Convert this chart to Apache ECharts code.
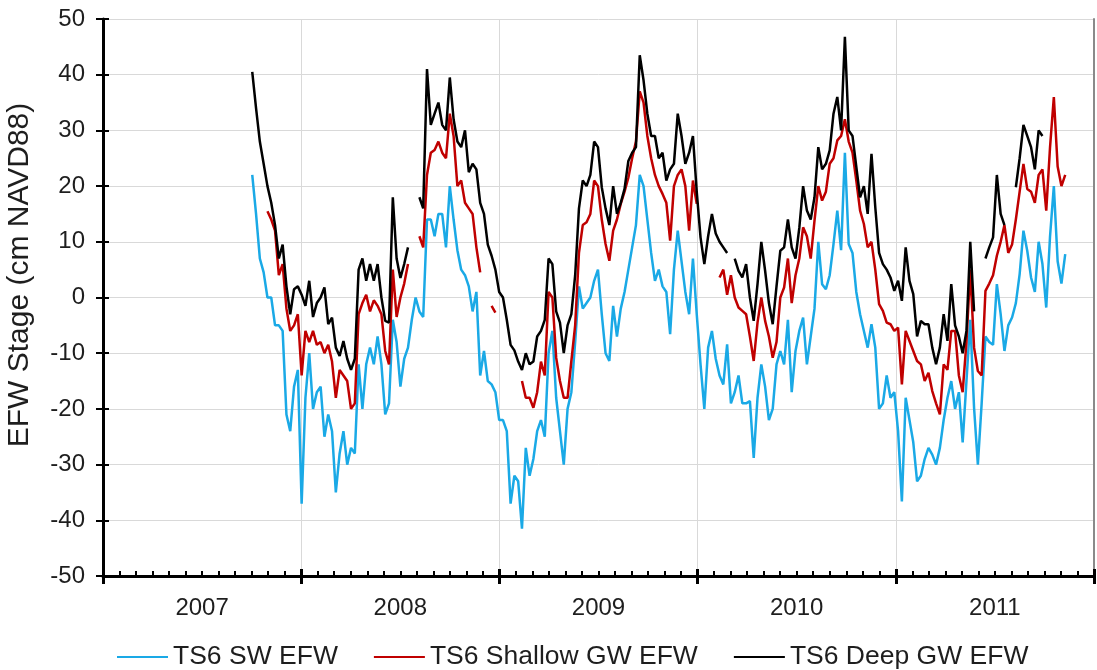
<!DOCTYPE html>
<html>
<head>
<meta charset="utf-8">
<title>TS6 EFW Stage</title>
<style>
  html, body { margin: 0; padding: 0; background: #ffffff; }
  #chart { width: 1097px; height: 670px; }
</style>
<script src="https://cdn.jsdelivr.net/npm/echarts@6/dist/echarts.min.js"></script>
</head>
<body>
<div id="chart"></div>
<script>
// Year bands on the x axis and month names for the minor ticks
const yearLabels = ['2007', '2008', '2009', '2010', '2011'];
const monthNames = ['Jan', 'Feb', 'Mar', 'Apr', 'May', 'Jun', 'Jul', 'Aug', 'Sep', 'Oct', 'Nov', 'Dec'];
const yAxisTitle = 'EFW Stage (cm NAVD88)';

// Weekly stage readings (cm NAVD88) starting from this date
const firstWeek = [2007, 9, 3]; // 3 Oct 2007 (month is zero-based)

// TS6 surface water EFW
const swEfw = [
  22, 15, 7, 4.5, 0, 0, -5, -5, -6, -21,
  -24, -16, -13, -37, -18, -10, -20, -17, -16, -25,
  -21, -24, -35, -28, -24, -30, -27, -28, -12, -20,
  -12, -9, -12, -7, -12, -21, -19, -4, -8, -16,
  -11, -9, -4, 0, -2.5, -3.5, 14, 14, 11, 15,
  15, 9, 20, 14, 8.5, 5, 4, 2, -2.5, 1,
  -14, -9.6, -15, -15.6, -17, -22, -22, -24, -37, -32,
  -33, -41.5, -27, -32, -29, -24, -22, -25, -10, -6,
  -18, -24, -30, -20, -17, -8, 2, -2, -1, 0,
  3, 5, -3, -10, -11.4, -1.5, -7, -2, 1, 5,
  9, 13, 22, 20, 14, 8, 3, 5, 2, 1,
  -6.6, 5, 12, 6.5, 1, -3, 7, -3, -12, -20,
  -9, -6, -11, -14, -15.6, -8.4, -19, -17, -14, -19,
  -19, -18.6, -28.8, -18, -12, -16, -22, -20, -12, -9.6,
  -12, -4, -17, -9.6, -6, -3.6, -12, -7, -2, 10,
  2.4, 1.5, 4, 9.6, 15.6, 8.5, 26, 9.6, 8, 1,
  -3, -6, -9, -4.8, -9, -20, -19, -14, -18, -17,
  -24, -36.6, -18, -22, -26, -33, -32, -29, -27, -28.2,
  -30, -27, -22, -18, -15, -20, -17, -26, -15, -4,
  -19.8, -30, -19, -7, -8, -8.5, 2.4, -3, -9.6, -5,
  -3.6, -1, 4.2, 12, 8.4, 3.6, 1, 10, 6, -1.8,
  11, 20, 6.5, 2.5, 7.8
];

// TS6 shallow groundwater EFW (null = no reading)
const shallowGwEfw = [
  null, null, null, null, 15.5, 14, 12, 4, 6, -2,
  -6, -5, -3, -14, -6, -8, -6, -8.5, -8, -10,
  -8.5, -11.5, -18, -13, -14, -15, -20, -19, -3, -1,
  0.5, -2.5, -0.5, -1.5, -3, -9.6, -12, 5, -3.5, 0,
  2.5, 6, null, null, 11, 9, 22, 26, 26.5, 28,
  26, 25, 33, 29, 20, 21, 17, 16, 15, 9,
  4.5, null, null, -1.5, -2.7, null, null, null, null, null,
  null, -15, -18, -18, -19.8, -17, -11.5, -14, 1, 0,
  -10.8, -15, -18, -18, -11.4, -5, 8, 13, 13.5, 15,
  21, 20, 14, 9.6, 6.6, 12, 14, 16.8, 19, 21.5,
  25, 28, 37, 35, 29, 25, 22, 20, 18.6, 17,
  10.2, 20, 22, 23, 20, 12, 21, 16.8, null, null,
  null, null, null, 3.6, 5, 0.5, 4, 0, -1.8, -2.4,
  -3, -7, -11.4, -4.5, 0, -4.2, -7, -10.8, -8, 0,
  1.8, 7, -1, 4, 7, 12.6, 11, 7, 13.8, 20,
  17.4, 19, 24, 25, 28.2, 29, 32, 28, 26, 21,
  15.6, 13.2, 9, 10, 5, -1.2, -2.4, -4.5, -4.8, -6,
  -5.4, -15.6, -6, -7.8, -9.6, -11.4, -12, -15, -13.5, -16.8,
  -19, -21, -12, -13, -6, -6, -14, -17, -8, 5,
  -9, -13.2, -14, 1.2, 2.5, 4, 7.5, 10, 13, 8,
  9.5, 14, 19, 24, 19.5, 19, 17, 22, 23, 15.6,
  27, 36, 23.5, 20, 22
];

// TS6 deep groundwater EFW (null = no reading)
const deepGwEfw = [
  40.5, 34, 28, 24, 20, 17, 13, 7, 9.5, 2,
  -3, 1.5, 2, 0.5, -1.5, 3, -3.5, -1, 0, 1.8,
  -4.8, -3.6, -9, -10.5, -7.8, -11, -13, -11, 5, 7,
  3, 6, 3, 6, 0, -4.2, -4.5, 18, 7, 3.5,
  6, 9, null, null, 18, 16, 41, 31, 33, 35,
  31, 30, 39.5, 32, 28, 27, 30, 22.5, 24, 23,
  17, 15, 9.5, 7.5, 5, 1, 0, -4, -8.5, -9.5,
  -11.5, -13, -10, -12, -11.5, -7, -6, -4, 7, 6,
  -2.5, -4.5, -10, -5, -3, 4, 16, 21, 20, 22,
  28, 27, 19.8, 16, 13, 20, 15, 17, 19.5, 24.5,
  26, 27, 43.5, 39, 33, 29, 29, 25, 26, 21,
  23, 24, 33, 29, 24, 26, 29, 19, 10.8, 6,
  11, 15, 11.5, 10, 9, 8, null, 7, 4.8, 3.6,
  6, 0, -4.2, 2.4, 10, 4.8, -1, -4.8, 2, 8.4,
  9, 14, 9, 7, 12.5, 20, 15.6, 14, 18, 27,
  23, 24, 26.4, 33, 36, 30, 46.8, 30, 29, 23.5,
  18, 20, 15, 25.8, 16.2, 8, 6, 5, 3.6, 1.2,
  3, -0.6, 9, 3, 0.6, -7, -4.2, -4.8, -4.8, -9,
  -12, -9, -3, -7.8, 2.4, -5, -7, -10, -6, 10,
  -2.5, null, null, 7, 9, 10.8, 22, 15, 13, null,
  null, 19.8, 25, 31, 29, 27, 23, 30, 29, null,
  null, null, null, null, null
];

const DAY = 86400000;
const startTime = Date.UTC(firstWeek[0], firstWeek[1], firstWeek[2]);

// Pair each weekly reading with its date; missing readings become gaps
function toPoints(values) {
  return values.map((v, i) => [startTime + i * 7 * DAY, v === null ? '-' : v]);
}

const monthLabels = yearLabels.flatMap(y => monthNames.map(m => m + ' ' + y));

const FONT = "'Liberation Sans', Arial, sans-serif";
const TEXT = '#1e1e1e';
const GRID_LINE = '#d9d9d9';
const LINE_W = 2.5;

const chart = echarts.init(document.getElementById('chart'), null, { renderer: 'canvas' });

chart.setOption({
  animation: false,
  backgroundColor: '#ffffff',
  textStyle: { fontFamily: FONT },
  grid: { left: 103, right: 3, top: 19, bottom: 94, containLabel: false },
  graphic: [
    {
      // rotated y-axis title
      type: 'text',
      x: 20,
      y: 275,
      rotation: Math.PI / 2,
      style: {
        text: yAxisTitle,
        font: "30px 'Liberation Sans', Arial, sans-serif",
        fill: TEXT,
        textAlign: 'center',
        textVerticalAlign: 'middle'
      }
    }
  ],
  legend: {
    left: 112,
    top: 637,
    icon: 'rect',
    itemWidth: 51,
    itemHeight: 2,
    itemGap: 36,
    textStyle: { fontFamily: FONT, fontSize: 26.5, color: TEXT, lineHeight: 30 },
    data: ['TS6 SW EFW', 'TS6 Shallow GW EFW', 'TS6 Deep GW EFW']
  },
  xAxis: [
    {
      // data axis (dates)
      type: 'time',
      min: Date.UTC(2007, 0, 1),
      max: Date.UTC(2012, 0, 1),
      show: false
    },
    {
      // year labels, outer major ticks, yearly grid lines
      type: 'category',
      data: yearLabels,
      boundaryGap: true,
      position: 'bottom',
      axisLine: { onZero: false, lineStyle: { color: '#000', width: 3 } },
      axisTick: { show: true, inside: false, length: 8, interval: 0, lineStyle: { color: '#000', width: 3 } },
      axisLabel: { show: true, interval: 0, margin: 20, fontFamily: FONT, fontSize: 24, color: TEXT },
      splitLine: { show: true, interval: 0, lineStyle: { color: GRID_LINE, width: 1 } }
    },
    {
      // inner half of the major ticks
      type: 'category',
      data: yearLabels,
      boundaryGap: true,
      position: 'bottom',
      axisLine: { show: false, onZero: false },
      axisTick: { show: true, inside: true, length: 7, interval: 0, lineStyle: { color: '#000', width: 3 } },
      axisLabel: { show: false },
      splitLine: { show: false }
    },
    {
      // monthly minor ticks
      type: 'category',
      data: monthLabels,
      boundaryGap: true,
      position: 'bottom',
      axisLine: { show: false, onZero: false },
      axisTick: { show: true, inside: true, length: 5, interval: 0, lineStyle: { color: '#000', width: 2 } },
      axisLabel: { show: false, interval: 0 },
      splitLine: { show: false }
    }
  ],
  yAxis: [
    {
      type: 'value',
      min: -50,
      max: 50,
      interval: 10,
      position: 'left',
      axisLine: { show: true, onZero: false, lineStyle: { color: '#000', width: 3 } },
      axisTick: { show: true, inside: false, length: 7, lineStyle: { color: '#000', width: 2 } },
      axisLabel: { margin: 18, fontFamily: FONT, fontSize: 24, color: TEXT },
      splitLine: { show: true, lineStyle: { color: GRID_LINE, width: 1 } }
    },
    {
      // inner half of the crossing y ticks
      type: 'value',
      min: -50,
      max: 50,
      interval: 10,
      position: 'left',
      axisLine: { show: false, onZero: false },
      axisTick: { show: true, inside: true, length: 6, lineStyle: { color: '#000', width: 2 } },
      axisLabel: { show: false },
      splitLine: { show: false }
    },
    {
      // right frame edge
      type: 'value',
      min: -50,
      max: 50,
      interval: 10,
      position: 'right',
      axisLine: { show: true, onZero: false, lineStyle: { color: '#8a8a8a', width: 2 } },
      axisTick: { show: false },
      axisLabel: { show: false },
      splitLine: { show: false }
    }
  ],
  series: [
    {
      name: 'TS6 SW EFW',
      type: 'line',
      xAxisIndex: 0,
      yAxisIndex: 0,
      symbol: 'none',
      connectNulls: false,
      color: '#1aa9e6',
      lineStyle: { color: '#1aa9e6', width: LINE_W },
      data: toPoints(swEfw)
    },
    {
      name: 'TS6 Shallow GW EFW',
      type: 'line',
      xAxisIndex: 0,
      yAxisIndex: 0,
      symbol: 'none',
      connectNulls: false,
      color: '#c00000',
      lineStyle: { color: '#c00000', width: LINE_W },
      data: toPoints(shallowGwEfw)
    },
    {
      name: 'TS6 Deep GW EFW',
      type: 'line',
      xAxisIndex: 0,
      yAxisIndex: 0,
      symbol: 'none',
      connectNulls: false,
      color: '#000000',
      lineStyle: { color: '#000000', width: LINE_W },
      data: toPoints(deepGwEfw)
    }
  ]
});
</script>
</body>
</html>
